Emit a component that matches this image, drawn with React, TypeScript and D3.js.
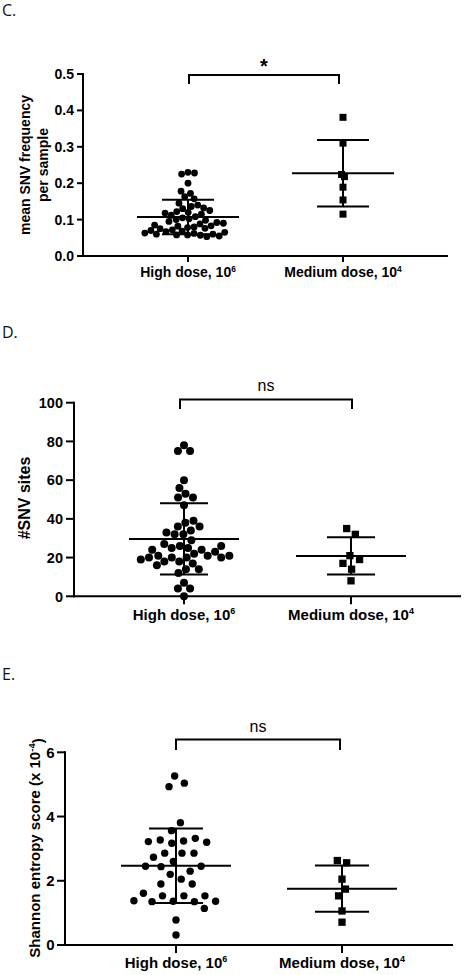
import React from 'react';
import * as d3 from 'd3';

// ---------- data ----------
const categories = ['High dose, 10', 'Medium dose, 10'];
const categoryExponents = ['6', '4'];

// Panel C: mean SNV frequency per sample
const freqHigh = [
  0.230, 0.228, 0.225, 0.200, 0.178, 0.172, 0.163, 0.157, 0.145, 0.140,
  0.136, 0.132, 0.130, 0.125, 0.122, 0.120, 0.118, 0.115, 0.112, 0.108,
  0.105, 0.102, 0.100, 0.098, 0.095, 0.092, 0.090, 0.088, 0.085, 0.083,
  0.082, 0.080, 0.078, 0.076, 0.075, 0.072, 0.070, 0.068, 0.067, 0.065,
  0.063, 0.062, 0.060, 0.060, 0.058, 0.058, 0.057, 0.055, 0.053,
];
const freqMedium = [0.381, 0.310, 0.224, 0.218, 0.189, 0.154, 0.115];
const freqTicks = [0, 0.1, 0.2, 0.3, 0.4, 0.5];

// Panel D: #SNV sites
const snvHigh = [
  78, 75, 75, 60, 56, 53, 51, 51, 47, 39, 38, 36, 36, 34, 33, 32, 32, 29, 27, 26,
  26, 25, 25, 24, 24, 23, 22, 21, 21, 21, 20, 20, 20, 20, 19, 18, 18, 17, 16, 14,
  14, 12, 7, 4, 4, 0,
];
const snvMedium = [35, 32, 21, 19, 17, 14, 8];
const snvTicks = [0, 20, 40, 60, 80, 100];

// Panel E: Shannon entropy score (x 10^-4)
const entropyHigh = [
  5.26, 5.04, 4.93, 3.81, 3.56, 3.32, 3.27, 3.24, 3.22, 3.20, 3.17, 2.86, 2.86, 2.86,
  2.73, 2.60, 2.45, 2.45, 2.44, 2.30, 2.20, 2.05, 1.90, 1.90, 1.61, 1.53, 1.53, 1.53,
  1.38, 1.36, 1.36, 1.35, 1.35, 1.14, 0.78, 0.31,
];
const entropyMedium = [2.63, 2.56, 2.05, 1.74, 1.53, 1.06, 0.71];
const entropyTicks = [0, 2, 4, 6];

// ---------- helpers ----------
const BOLD = '"Liberation Sans", Arial, Helvetica, sans-serif';

function swarm(values: number[], y: (v: number) => number, cx: number, radius: number): number[] {
  const nodes: any[] = values.map((v, i) => ({
    x: cx + (i % 2 ? 1 : -1) * ((i % 5) * 0.4 + 0.1),
    y: y(v),
    fy: y(v),
  }));
  const sim = d3
    .forceSimulation(nodes)
    .force('x', d3.forceX(cx).strength(0.08))
    .force('collide', d3.forceCollide(radius).strength(1).iterations(4))
    .stop();
  for (let i = 0; i < 400; i++) sim.tick();
  return nodes.map((n) => n.x);
}

type PanelCfg = {
  letter: string;
  letterY: number;
  axisX: number;
  axisEnd: number;
  yRange: [number, number];
  domain: [number, number];
  ticks: number[];
  fmt: string;
  centers: [number, number];
  high: number[];
  med: number[];
  dotR: number;
  sq: number;
  collHigh: number;
  collMed: number;
  meanHalf: number;
  sdHalf: number;
  yTickLen: number;
  xTickLen: number;
  tickGap: number;
  tickSize: number;
  catY: number;
  catSize: number;
  bracket: [number, number, number, number];
  sig: string;
  sigY: number;
  sigSize: number;
  sigBold: boolean;
  yLabel: React.ReactNode;
};

function Panel({ c }: { c: PanelCfg }) {
  const y = d3.scaleLinear().domain(c.domain).range(c.yRange);
  const x = d3.scalePoint<string>().domain(categories).range(c.centers);
  const fmt = d3.format(c.fmt);
  const groups = [c.high, c.med];
  const y0 = c.yRange[0];
  return (
    <g>
      <text x={2} y={c.letterY} fontFamily='"Open Sans", "Liberation Sans", sans-serif' fontSize={16} fill="#111">
        {c.letter}
      </text>
      {/* y axis */}
      <line x1={c.axisX} x2={c.axisX} y1={c.yRange[1] - 1} y2={y0 + 1} stroke="#000" strokeWidth={2} />
      {c.ticks.map((t) => (
        <g key={t}>
          <line x1={c.axisX - c.yTickLen} x2={c.axisX} y1={y(t)} y2={y(t)} stroke="#000" strokeWidth={2} />
          <text
            x={c.axisX - c.yTickLen - c.tickGap}
            y={y(t)}
            dy="0.36em"
            textAnchor="end"
            fontFamily={BOLD}
            fontWeight="bold"
            fontSize={c.tickSize}
          >
            {fmt(t)}
          </text>
        </g>
      ))}
      {/* x axis */}
      <line x1={c.axisX - 1} x2={c.axisEnd} y1={y0} y2={y0} stroke="#000" strokeWidth={2} />
      {categories.map((cat, i) => (
        <g key={cat}>
          <line x1={x(cat)!} x2={x(cat)!} y1={y0} y2={y0 + c.xTickLen} stroke="#000" strokeWidth={2} />
          <text
            x={x(cat)!}
            y={c.catY}
            textAnchor="middle"
            fontFamily={BOLD}
            fontWeight="bold"
            fontSize={c.catSize}
          >
            <tspan>{cat}</tspan>
            <tspan dy="-0.62em" fontSize={c.catSize * 0.6}>
              {categoryExponents[i]}
            </tspan>
          </text>
        </g>
      ))}
      {/* y label */}
      {c.yLabel}
      {/* groups */}
      {groups.map((vals, gi) => {
        const cx = x(categories[gi])!;
        const m = d3.mean(vals)!;
        const sd = d3.deviation(vals)!;
        const xs = swarm(vals, y, cx, gi === 0 ? c.collHigh : c.collMed);
        return (
          <g key={gi}>
            {vals.map((v, i) =>
              gi === 0 ? (
                <circle key={i} cx={xs[i]} cy={y(v)} r={c.dotR} fill="#000" />
              ) : (
                <rect key={i} x={xs[i] - c.sq / 2} y={y(v) - c.sq / 2} width={c.sq} height={c.sq} fill="#000" />
              )
            )}
            <line x1={cx} x2={cx} y1={y(m + sd)} y2={y(m - sd)} stroke="#000" strokeWidth={2} />
            <line x1={cx - c.sdHalf} x2={cx + c.sdHalf} y1={y(m + sd)} y2={y(m + sd)} stroke="#000" strokeWidth={2} />
            <line x1={cx - c.sdHalf} x2={cx + c.sdHalf} y1={y(m - sd)} y2={y(m - sd)} stroke="#000" strokeWidth={2} />
            <line x1={cx - c.meanHalf} x2={cx + c.meanHalf} y1={y(m)} y2={y(m)} stroke="#000" strokeWidth={2} />
          </g>
        );
      })}
      {/* significance bracket */}
      <path
        d={`M${c.bracket[0]},${c.bracket[3]}V${c.bracket[2]}H${c.bracket[1]}V${c.bracket[3]}`}
        fill="none"
        stroke="#000"
        strokeWidth={2}
      />
      <text
        x={(c.bracket[0] + c.bracket[1]) / 2}
        y={c.sigY}
        textAnchor="middle"
        fontFamily={BOLD}
        fontWeight={c.sigBold ? 'bold' : 'normal'}
        fontSize={c.sigSize}
      >
        {c.sig}
      </text>
    </g>
  );
}

const panelC: PanelCfg = {
  letter: 'C.',
  letterY: 16,
  axisX: 83,
  axisEnd: 448,
  yRange: [256, 74],
  domain: [0, 0.5],
  ticks: freqTicks,
  fmt: '.1f',
  centers: [188, 343],
  high: freqHigh,
  med: freqMedium,
  dotR: 3.4,
  sq: 7,
  collHigh: 3.3,
  collMed: 1.8,
  meanHalf: 51,
  sdHalf: 26,
  yTickLen: 6,
  xTickLen: 6,
  tickGap: 3,
  tickSize: 14,
  catY: 277,
  catSize: 14,
  bracket: [189, 339, 75, 84],
  sig: '*',
  sigY: 73,
  sigSize: 20,
  sigBold: true,
  yLabel: (
    <g fontFamily={BOLD} fontWeight="bold" fontSize={14}>
      <text transform="translate(29.5,165) rotate(-90)" textAnchor="middle">
        mean SNV frequency
      </text>
      <text transform="translate(47.5,165) rotate(-90)" textAnchor="middle">
        per sample
      </text>
    </g>
  ),
};

const panelD: PanelCfg = {
  letter: 'D.',
  letterY: 338,
  axisX: 74,
  axisEnd: 461,
  yRange: [596.3, 402.7],
  domain: [0, 100],
  ticks: snvTicks,
  fmt: 'd',
  centers: [184, 351],
  high: snvHigh,
  med: snvMedium,
  dotR: 4,
  sq: 7.3,
  collHigh: 4.2,
  collMed: 5.2,
  meanHalf: 55,
  sdHalf: 24,
  yTickLen: 8,
  xTickLen: 8,
  tickGap: 3,
  tickSize: 14.5,
  catY: 620,
  catSize: 15,
  bracket: [180, 352, 399.5, 409],
  sig: 'ns',
  sigY: 390.5,
  sigSize: 16,
  sigBold: false,
  yLabel: (
    <text
      transform="translate(30,498) rotate(-90)"
      textAnchor="middle"
      fontFamily={BOLD}
      fontWeight="bold"
      fontSize={16}
    >
      #SNV sites
    </text>
  ),
};

const panelE: PanelCfg = {
  letter: 'E.',
  letterY: 680,
  axisX: 65,
  axisEnd: 453,
  yRange: [945, 752.3],
  domain: [0, 6],
  ticks: entropyTicks,
  fmt: 'd',
  centers: [176, 342],
  high: entropyHigh,
  med: entropyMedium,
  dotR: 3.7,
  sq: 7.3,
  collHigh: 6,
  collMed: 4.8,
  meanHalf: 55,
  sdHalf: 27,
  yTickLen: 8,
  xTickLen: 8,
  tickGap: 2.5,
  tickSize: 15,
  catY: 968,
  catSize: 15,
  bracket: [176, 340, 739.5, 750],
  sig: 'ns',
  sigY: 731.5,
  sigSize: 16,
  sigBold: false,
  yLabel: (
    <text
      transform="translate(40,848) rotate(-90)"
      textAnchor="middle"
      fontFamily={BOLD}
      fontWeight="bold"
      fontSize={15}
    >
      <tspan>Shannon entropy score (x 10</tspan>
      <tspan dy="-0.55em" fontSize={9.5}>
        -4
      </tspan>
      <tspan dy="0.55em">)</tspan>
    </text>
  ),
};

export default function App() {
  return (
    <svg
      width={465}
      height={975}
      viewBox="0 0 465 975"
      style={{ position: 'absolute', left: 0, top: 0, background: '#fff' }}
    >
      <rect width={465} height={975} fill="#fff" />
      <Panel c={panelC} />
      <Panel c={panelD} />
      <Panel c={panelE} />
    </svg>
  );
}
